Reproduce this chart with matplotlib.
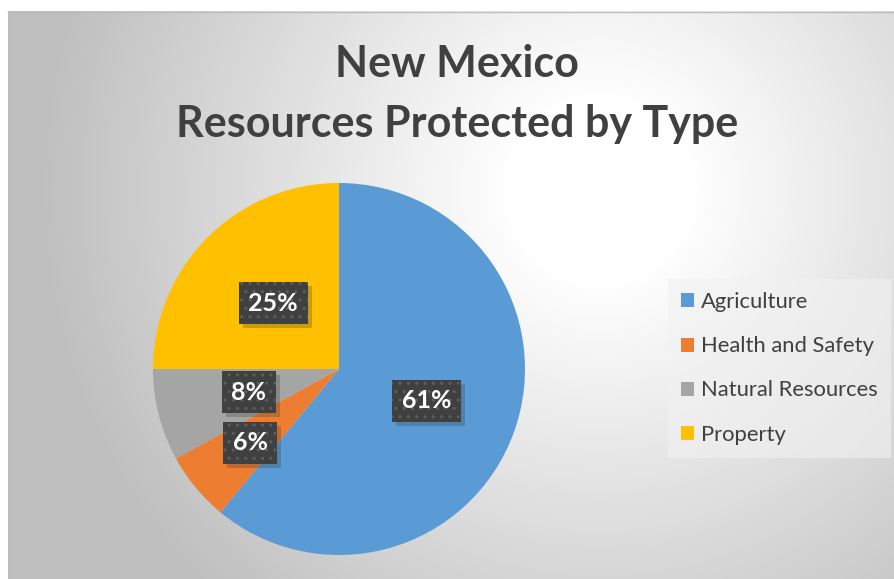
import matplotlib.pyplot as plt
import matplotlib.patheffects as pe
import matplotlib.colors as mcolors
import numpy as np

categories = ['Agriculture', 'Health and Safety', 'Natural Resources', 'Property']
values = [61, 6, 8, 25]
colors = ['#5b9bd5', '#ed7d31', '#a5a5a5', '#ffc000']
label_dist = [0.5, 0.62, 0.5, 0.5]


class BoxShadow(pe.AbstractPathEffect):
    # plain drop shadow for the label boxes (no hatch copied)
    def __init__(self, offset=(3, -3), color='black', alpha=0.25):
        super().__init__(offset)
        self.rgb = mcolors.to_rgb(color)
        self.alpha = alpha

    def draw_path(self, renderer, gc, tpath, affine, rgbFace):
        gc0 = renderer.new_gc()
        gc0.copy_properties(gc)
        gc0.set_hatch(None)
        gc0.set_linewidth(0)
        gc0.set_alpha(self.alpha)
        renderer.draw_path(gc0, tpath, affine + self._offset_transform(renderer), self.rgb)
        gc0.restore()


W, H = 894, 579
fig = plt.figure(figsize=(W / 100, H / 100), dpi=100)

# background: white margin + radial grey gradient chart area
bg = fig.add_axes([0, 0, 1, 1])
yy, xx = np.mgrid[0:H, 0:W]
d = np.sqrt((xx - 600) ** 2 + (yy - 190) ** 2)
t = np.clip((d - 90) / 470, 0, 1)
shade = 1.0 - 0.25 * t
img = np.dstack([shade, shade, shade])
img[:11, :, :] = 1.0
img[:, :8, :] = 1.0
bg.imshow(img, extent=[0, W, H, 0], aspect='auto', interpolation='bilinear')
bg.plot([8, W], [11.5, 11.5], color='#bdbdbd', lw=1)
bg.plot([8.5, 8.5], [11, H], color='#bdbdbd', lw=1)
bg.set_xlim(0, W)
bg.set_ylim(H, 0)
bg.axis('off')

fig.text(457 / W, 1 - 64 / H, 'New Mexico', ha='center', va='center',
         fontsize=31, fontweight='bold', color='#404040', family='Lato')
fig.text(457 / W, 1 - 124 / H, 'Resources Protected by Type', ha='center', va='center',
         fontsize=31, fontweight='bold', color='#404040', family='Lato')

# pie
cx, cy, r = 339, 369, 186
ax = fig.add_axes([(cx - r) / W, (H - cy - r) / H, 2 * r / W, 2 * r / H])
wedges, _ = ax.pie(values, colors=colors, startangle=90, counterclock=False,
                   radius=1, wedgeprops=dict(linewidth=0))
ax.set_xlim(-1, 1)
ax.set_ylim(-1, 1)
ax.axis('off')

for w, v, dist in zip(wedges, values, label_dist):
    ang = np.deg2rad((w.theta1 + w.theta2) / 2)
    x, y = dist * np.cos(ang), dist * np.sin(ang)
    txt = ax.text(x, y, f'{v}%', ha='center', va='center', fontsize=18,
                  fontweight='bold', color='white', family='Lato',
                  bbox=dict(boxstyle='square,pad=0.38', fc='#404040', ec='#5e5e5e',
                            hatch='..', lw=0))
    txt.get_bbox_patch().set_path_effects([BoxShadow((3, -3), '#303030', 0.25),
                                           pe.Normal()])

# legend
leg = fig.legend(wedges, categories, loc='upper left',
                 bbox_to_anchor=(668 / W, 1 - 279 / H), frameon=True,
                 prop=dict(family='Lato', size=15.8), labelcolor='#404040',
                 handlelength=0.6, handleheight=0.6, handletextpad=0.3,
                 labelspacing=1.1, borderpad=0.6, borderaxespad=0, fancybox=False)
leg.get_frame().set_facecolor('#f2f2f2')
leg.get_frame().set_alpha(0.6)
leg.get_frame().set_linewidth(0)

fig.savefig('out.png', dpi=100)
